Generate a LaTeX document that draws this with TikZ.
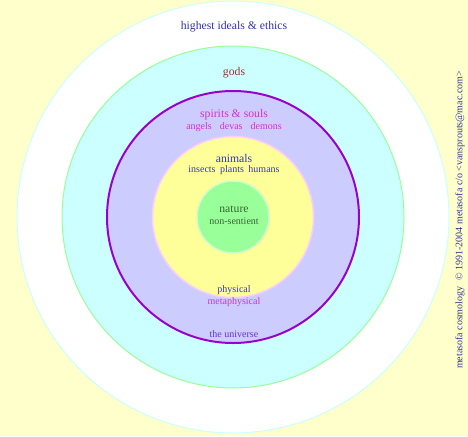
\documentclass[tikz,border=0pt]{standalone}
\usepackage{fontspec}
\setmainfont{Liberation Serif}
\definecolor{bgyellow}{HTML}{FFFFCC}
\definecolor{ringedge}{HTML}{CCFFFF}
\definecolor{cyanfill}{HTML}{CCFFFF}
\definecolor{greenedge}{HTML}{99FF99}
\definecolor{lavfill}{HTML}{CCCCFF}
\definecolor{purpedge}{HTML}{9900CC}
\definecolor{yelfill}{HTML}{FFFF99}
\definecolor{pinkedge}{HTML}{FFCCFF}
\definecolor{natfill}{HTML}{99FF99}
\definecolor{natedge}{HTML}{CCFFCC}
\definecolor{navy}{HTML}{333399}
\definecolor{brick}{HTML}{993333}
\definecolor{magent}{HTML}{CC33CC}
\definecolor{blu}{HTML}{3333CC}
\definecolor{dkgreen}{HTML}{336633}
\definecolor{univ}{HTML}{6633CC}
\tikzset{
  ring/.style={circle, inner sep=0pt, line width=1pt},
  lbl/.style={inner sep=0pt, font=\fontsize{11.7}{13}\selectfont},
  sublbl/.style={inner sep=0pt, font=\fontsize{10}{12}\selectfont},
}
\begin{document}
\begin{tikzpicture}[x=1pt,y=-1pt]
\fill[bgyellow] (0,0) rectangle (468,436);
\useasboundingbox (0,0) rectangle (468,436);
\node[ring, draw=ringedge, fill=white, minimum size=432pt] (ideals) at (233,217) {};
\node[ring, draw=greenedge, fill=cyanfill, minimum size=342pt] (godsring) at (233,217) {};
\node[ring, draw=purpedge, line width=2pt, fill=lavfill, minimum size=252pt] (spirits) at (233,217) {};
\node[ring, draw=pinkedge, line width=1.5pt, fill=yelfill, minimum size=161pt] (animring) at (233,217) {};
\node[ring, draw=natedge, line width=1.5pt, fill=natfill, minimum size=72pt] (natring) at (233,217) {};
\node[lbl, text=navy] (t1) at (234,27) {highest ideals \& ethics};
\node[lbl, text=brick] (t2) at (234,73) {gods};
\node[lbl, text=magent] (t3) at (234,115) {spirits \& souls};
\node[sublbl, text=magent] (t4) at (234,127.5) {angels\hspace{0.8em}devas\hspace{0.8em}demons};
\node[lbl, text=blu] (t5) at (234,158) {animals};
\node[sublbl, text=blu] (t6) at (234,170.5) {insects\hspace{0.45em}plants\hspace{0.45em}humans};
\node[lbl, text=dkgreen] (t7) at (234,209) {nature};
\node[sublbl, text=dkgreen] (t8) at (234,221.5) {non-sentient};
\node[sublbl, text=blu] (t9) at (234,290) {physical};
\node[sublbl, text=magent] (t10) at (234,302) {metaphysical};
\node[sublbl, text=univ] (t11) at (234,334) {the universe};
\node[sublbl, text=navy, rotate=90] (t12) at (460,220) {metasofa cosmology\hspace{0.6em}© 1991-2004 metasofa c/o <vansprouts@mac.com>};
\end{tikzpicture}
\end{document}
